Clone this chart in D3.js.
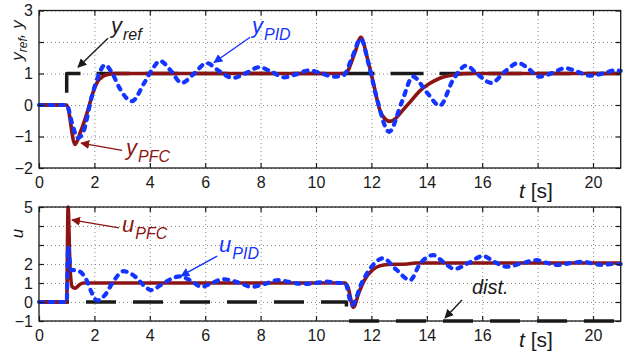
<!DOCTYPE html>
<html>
<head>
<meta charset="utf-8">
<script src="https://cdn.jsdelivr.net/npm/d3@7"></script>
<style>
  body { margin: 0; background: #fff; }
  svg { display: block; font-family: "Liberation Sans", Arial, sans-serif; }
</style>
</head>
<body>
<script>
// ---- data ----
const xTicks = d3.range(0, 21, 2);
const xLabels = [0, 2, 4, 6, 8, 10, 12, 14, 16, 20]; // 18 gives way to "t [s]"
const yTopTicks = [-2, -1, 0, 1, 2, 3];
const yTopLabels = [3, 1, 0, -1, -2];
const yBotTicks = [-1, 0, 1, 2, 3, 4, 5];
const yBotLabels = [5, 2, 1, 0, -1];

// reference and disturbance (step signals)
const tRef = [0, 1, 1, 21];
const vRef = [0, 0, 1, 1];
const tDist = [0, 11.1, 11.1, 21];
const vDist = [0, 0, -1, -1];

// plant output, PFC
const tYpfc = [0, 1.0, 1.3, 1.5, 1.77, 1.95, 2.1, 2.3, 2.5, 2.75, 3.2, 11.05, 11.4, 11.62, 11.85,
  12.07, 12.3, 12.5, 12.67, 12.85, 13.0, 13.4, 13.75, 14.1, 14.47, 15.0, 15.6, 21];
const vYpfc = [0, 0, -1.25, -0.85, -0.15, 0.4, 0.72, 0.9, 0.97, 1.0, 1.0, 1.0, 1.65, 2.15, 1.5,
  0.7, -0.15, -0.45, -0.52, -0.45, -0.3, 0.1, 0.45, 0.68, 0.85, 0.96, 1.0, 1.0];

// plant output, PID
const tYpid = [0, 1.0, 1.2, 1.4, 1.6, 1.9, 2.13, 2.38, 2.65, 2.9, 3.35, 3.8, 4.1, 4.37, 4.75, 5.15,
  5.6, 6.05, 6.5, 7.0, 7.45, 7.95, 8.4, 8.85, 9.3, 9.75, 10.2, 10.65, 11.0, 11.3, 11.62, 11.9,
  12.2, 12.64, 13.1, 13.5, 14.0, 14.47, 14.95, 15.43, 15.8, 16.34, 16.8, 17.3, 17.65, 18.05,
  18.55, 19.0, 19.45, 19.9, 20.35, 20.8, 21];
const vYpid = [0, 0, -0.6, -1.05, -0.85, 0.25, 0.9, 1.27, 1.0, 0.55, 0.12, 0.7, 1.15, 1.4, 1.1, 0.7,
  1.0, 1.33, 1.08, 0.86, 1.0, 1.2, 1.05, 0.88, 0.98, 1.1, 1.0, 0.9, 0.95, 1.5, 2.1, 1.3,
  0.2, -0.85, 0.1, 0.9, 0.4, -0.02, 0.8, 1.25, 1.0, 0.7, 1.05, 1.33, 1.17, 0.9,
  1.02, 1.17, 1.05, 0.93, 1.0, 1.1, 1.08];

// control signal, PFC
const tUpfc = [0, 1.0, 1.05, 1.12, 1.2, 1.3, 1.45, 1.6, 11.05, 11.15, 11.35, 11.55, 11.75, 12.05,
  12.3, 12.6, 13.3, 13.6, 21];
const vUpfc = [0, 0, 5, 1.8, 0.8, 0.72, 0.9, 1.0, 1.0, 0.8, -0.28, 0.5, 1.15, 1.7, 1.9, 1.97,
  2.0, 2.05, 2.05];

// control signal, PID
const tUpid = [0, 1.0, 1.05, 1.15, 1.4, 1.7, 1.9, 2.1, 2.4, 2.65, 3.05, 3.5, 3.8, 4.05, 4.4, 4.75,
  5.1, 5.5, 5.87, 6.25, 6.65, 7.15, 7.68, 8.15, 8.63, 9.05, 9.53, 10.0, 10.4, 10.8, 11.05, 11.3,
  11.65, 11.95, 12.42, 12.9, 13.4, 13.75, 14.23, 14.6, 15.0, 15.5, 16.03, 16.45, 16.9, 17.45,
  17.97, 18.35, 18.74, 19.2, 19.64, 20.0, 20.3, 20.7, 21];
const vUpid = [0, 0, 2.9, 1.7, 1.65, 1.2, 0.5, 0.08, 0.4, 1.0, 1.62, 1.3, 0.85, 0.63, 0.9, 1.2,
  1.35, 1.1, 0.8, 1.0, 1.2, 1.05, 0.8, 0.95, 1.15, 1.05, 0.95, 1.0, 1.07, 1.0, 1.0, -0.15,
  1.0, 1.75, 2.3, 1.7, 1.15, 2.0, 2.47, 2.1, 1.74, 2.05, 2.42, 2.1, 1.86, 2.05,
  2.2, 2.05, 1.95, 2.05, 2.12, 2.02, 1.95, 2.0, 2.0];

const zip = (ts, vs) => ts.map((t, i) => [t, vs[i]]);

// ---- layout ----
const width = 623;
const height = 352;
const RED = '#8c1414';
const BLUE = '#1434ff';
const INK = '#1a1a1a';

const x = d3.scaleLinear().domain([0, 21]).range([39, 620.7]);
const yTop = d3.scaleLinear().domain([-2, 3]).range([168, 10.5]);
const yBot = d3.scaleLinear().domain([-1, 5]).range([321, 207]);

const svg = d3.select('body').append('svg')
  .attr('width', width)
  .attr('height', height)
  .attr('viewBox', [0, 0, width, height]);

const defs = svg.append('defs');
[['black', INK], ['red', RED], ['blue', BLUE]].forEach(([id, c]) => {
  defs.append('marker')
    .attr('id', `arr-${id}`)
    .attr('viewBox', '0 0 10 10')
    .attr('refX', 9)
    .attr('refY', 5)
    .attr('markerWidth', 9)
    .attr('markerHeight', 9)
    .attr('markerUnits', 'userSpaceOnUse')
    .attr('orient', 'auto')
    .append('path')
    .attr('d', 'M0,0L10,5L0,10z')
    .attr('fill', c);
});

const drawPanel = (y, yTicks, yLabels, series) => {
  const [y0, y1] = y.range();
  const g = svg.append('g');

  // dotted grid
  g.append('g')
    .attr('transform', `translate(0,${y0})`)
    .call(d3.axisBottom(x).tickValues(xTicks.filter((d) => d > 0)).tickSize(-(y0 - y1)).tickFormat(''))
    .call((s) => s.select('.domain').remove())
    .selectAll('line')
    .attr('stroke', '#8a8a8a')
    .attr('stroke-dasharray', '1 3');
  g.append('g')
    .attr('transform', `translate(${x.range()[0]},0)`)
    .call(d3.axisRight(y).tickValues(yTicks).tickSize(x.range()[1] - x.range()[0]).tickFormat(''))
    .call((s) => s.select('.domain').remove())
    .selectAll('line')
    .attr('stroke', '#8a8a8a')
    .attr('stroke-dasharray', '1 3');

  // curves
  series.forEach((s) => {
    g.append('path')
      .datum(s.data)
      .attr('fill', 'none')
      .attr('stroke', s.color)
      .attr('stroke-width', s.width)
      .attr('stroke-dasharray', s.dash)
      .attr('stroke-dashoffset', s.offset || 0)
      .attr('stroke-linecap', s.cap || 'butt')
      .attr('stroke-linejoin', 'round')
      .attr('d', d3.line()
        .x((d) => x(d[0]))
        .y((d) => y(d[1]))
        .curve(s.curve));
  });

  // box
  g.append('rect')
    .attr('x', x.range()[0])
    .attr('y', y1)
    .attr('width', x.range()[1] - x.range()[0])
    .attr('height', y0 - y1)
    .attr('fill', 'none')
    .attr('stroke', INK)
    .attr('stroke-width', 1.3);

  // inward ticks on all four sides
  const styleAxis = (s) => {
    s.select('.domain').remove();
    s.selectAll('line').attr('stroke', INK).attr('stroke-width', 1.2);
    s.selectAll('text')
      .attr('font-size', 16)
      .attr('font-family', '"Liberation Sans", Arial, sans-serif')
      .attr('fill', INK);
  };
  g.append('g')
    .attr('transform', `translate(0,${y0})`)
    .call(d3.axisBottom(x).tickValues(xTicks).tickSize(-5).tickPadding(9)
      .tickFormat((d) => (xLabels.includes(d) ? d3.format('d')(d) : '')))
    .call(styleAxis);
  g.append('g')
    .attr('transform', `translate(0,${y1})`)
    .call(d3.axisTop(x).tickValues(xTicks).tickSize(-5).tickFormat(''))
    .call(styleAxis);
  g.append('g')
    .attr('transform', `translate(${x.range()[0]},0)`)
    .call(d3.axisLeft(y).tickValues(yTicks).tickSize(-5).tickPadding(6)
      .tickFormat((d) => (yLabels.includes(d) ? d3.format('d')(d) : '')))
    .call(styleAxis);
  g.append('g')
    .attr('transform', `translate(${x.range()[1]},0)`)
    .call(d3.axisRight(y).tickValues(yTicks).tickSize(-5).tickFormat(''))
    .call(styleAxis);
};

const refStyle = { color: INK, width: 3.5, dash: '33 16', curve: d3.curveLinear };
const pfcStyle = { color: RED, width: 3.6, dash: null, curve: d3.curveMonotoneX };
const pidStyle = { color: BLUE, width: 4.2, dash: '4 6.5', cap: 'round', curve: d3.curveMonotoneX };

drawPanel(yTop, yTopTicks, yTopLabels, [
  { ...refStyle, data: zip(tRef, vRef), offset: 9 },
  { ...pfcStyle, data: zip(tYpfc, vYpfc) },
  { ...pidStyle, data: zip(tYpid, vYpid) },
]);

drawPanel(yBot, yBotTicks, yBotLabels, [
  { ...refStyle, dash: '30 17', data: zip(tDist, vDist) },
  { ...pfcStyle, data: zip(tUpfc, vUpfc) },
  { ...pidStyle, data: zip(tUpid, vUpid) },
]);

// ---- annotations (positions in data units of each panel) ----
const subLabel = (y, t, v, main, sub, color) => {
  const txt = svg.append('text')
    .attr('x', x(t))
    .attr('y', y(v))
    .attr('fill', color)
    .attr('font-style', 'italic');
  txt.append('tspan').attr('font-size', 22).text(main);
  txt.append('tspan').attr('font-size', 16).attr('dy', 7).attr('dx', 1).text(sub);
};

const arrow = (y, [t0, v0], [t1, v1], color, id) => {
  svg.append('line')
    .attr('x1', x(t0)).attr('y1', y(v0))
    .attr('x2', x(t1)).attr('y2', y(v1))
    .attr('stroke', color)
    .attr('stroke-width', 1.4)
    .attr('marker-end', `url(#arr-${id})`);
};

subLabel(yTop, 2.6, 2.27, 'y', 'ref', INK);
arrow(yTop, [2.49, 2.12], [1.41, 1.2], INK, 'black');
subLabel(yTop, 7.69, 2.27, 'y', 'PID', BLUE);
arrow(yTop, [7.62, 2.15], [6.32, 1.35], BLUE, 'blue');
subLabel(yTop, 3.14, -1.6, 'y', 'PFC', RED);
arrow(yTop, [3.0, -1.44], [1.52, -1.21], RED, 'red');

subLabel(yBot, 3.0, 3.68, 'u', 'PFC', RED);
arrow(yBot, [2.89, 3.9], [1.19, 4.32], RED, 'red');
subLabel(yBot, 6.5, 2.63, 'u', 'PID', BLUE);
arrow(yBot, [6.43, 2.42], [5.13, 1.37], BLUE, 'blue');

svg.append('text')
  .attr('x', x(15.63))
  .attr('y', yBot(0.42))
  .attr('fill', INK)
  .attr('font-style', 'italic')
  .attr('font-size', 20)
  .text('dist.');
arrow(yBot, [15.27, 0.11], [14.66, -0.84], INK, 'black');

// time axis titles
[[yTop, -2.94], [yBot, -2.39]].forEach(([y, v]) => {
  const txt = svg.append('text')
    .attr('x', x(17.33))
    .attr('y', y(v))
    .attr('fill', INK)
    .attr('font-size', 21);
  txt.append('tspan').attr('font-style', 'italic').text('t');
  txt.append('tspan').text(' [s]');
});

// y axis titles
const yTitle = svg.append('text')
  .attr('transform', `translate(23,${yTop(2.05)}) rotate(-90)`)
  .attr('text-anchor', 'middle')
  .attr('fill', INK)
  .attr('font-style', 'italic')
  .attr('font-size', 17);
yTitle.append('tspan').text('y');
yTitle.append('tspan').attr('font-size', 12).attr('dy', 4).text('ref');
yTitle.append('tspan').attr('dy', -4).text(', y');

svg.append('text')
  .attr('transform', `translate(23,${yBot(3.6)}) rotate(-90)`)
  .attr('text-anchor', 'middle')
  .attr('fill', INK)
  .attr('font-style', 'italic')
  .attr('font-size', 17)
  .text('u');
</script>
</body>
</html>
